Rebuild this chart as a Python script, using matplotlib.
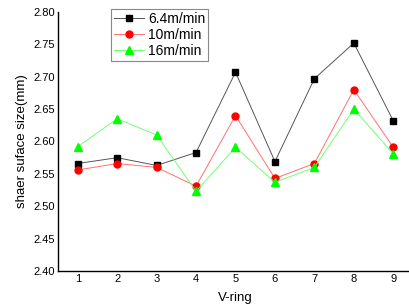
import matplotlib
matplotlib.use("Agg")
import matplotlib.pyplot as plt

x = [1, 2, 3, 4, 5, 6, 7, 8, 9]
s64 = [2.566, 2.575, 2.563, 2.583, 2.707, 2.569, 2.697, 2.752, 2.632]
s10 = [2.556, 2.566, 2.560, 2.531, 2.640, 2.543, 2.566, 2.680, 2.591]
s16 = [2.592, 2.635, 2.610, 2.523, 2.591, 2.537, 2.560, 2.650, 2.581]
labels = ["6.4m/min", "10m/min", "16m/min"]
yticks = [2.40, 2.45, 2.50, 2.55, 2.60, 2.65, 2.70, 2.75, 2.80]

plt.rcParams['font.family'] = ['Liberation Sans', 'DejaVu Sans']
fig = plt.figure(figsize=(4.09, 3.06), dpi=100)
W, H = 409, 306
ax = fig.add_axes([58 / W, 1 - 271 / H, (413 - 58) / W, (271 - 12) / H])

ax.plot(x, s64, color='#555555', lw=0.7, marker='s', ms=4.5, mfc='black', mec='black', label=labels[0])
ax.plot(x, s10, color='#ff7070', lw=0.7, marker='o', ms=5, mfc='red', mec='red', label=labels[1])
ax.plot(x, s16, color='#70ff70', lw=0.7, marker='^', ms=5.5, mfc='#00ff00', mec='#00ff00', label=labels[2])

ax.set_xlim(0.5, 9.5)
ax.set_ylim(2.40, 2.80)
ax.set_xticks(x)
ax.set_yticks(yticks)
ax.set_yticklabels([f"{v:.2f}" for v in yticks])
ax.tick_params(length=0, labelsize=8, pad=2)
ax.spines['top'].set_visible(False)
ax.spines['right'].set_visible(False)
ax.spines['left'].set_linewidth(1.0)
ax.spines['bottom'].set_linewidth(1.0)
ax.set_xlabel("V-ring", fontsize=9.5, labelpad=6)
ax.set_ylabel("shaer suface size(mm)", fontsize=9.5, labelpad=4)

leg = ax.legend(loc='upper left', bbox_to_anchor=((111 - 58) / (413 - 58), 1.01), fontsize=10,
                fancybox=False, edgecolor='#888888', framealpha=1, handlelength=2.2,
                borderpad=0.2, labelspacing=0.15, handletextpad=0.25, borderaxespad=0)
leg.get_frame().set_linewidth(0.8)

fig.savefig("out.png", dpi=100)
